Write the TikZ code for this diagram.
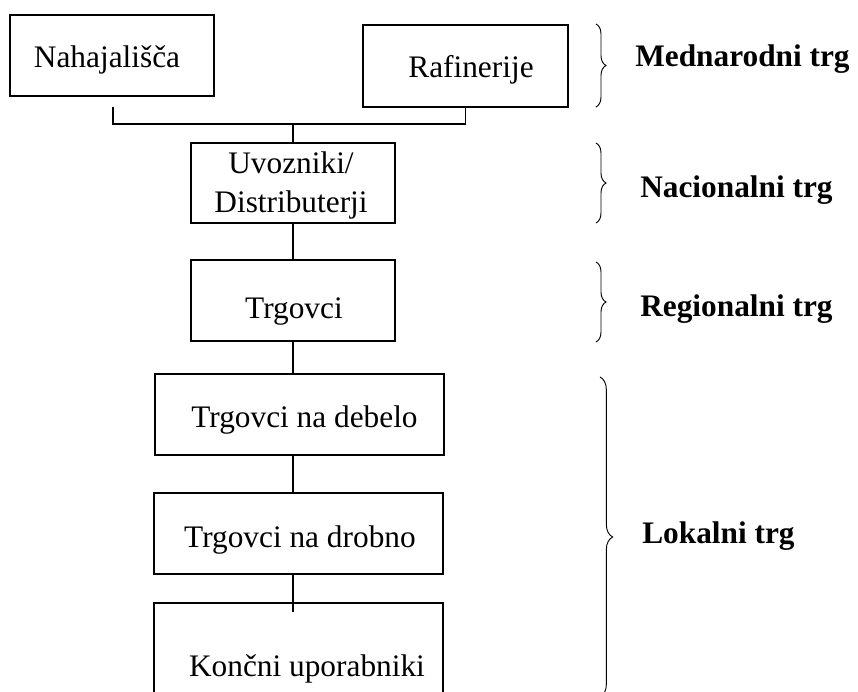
\documentclass[tikz,border=0pt]{standalone}
\usepackage{fontspec}
\setmainfont{Liberation Serif}
\usetikzlibrary{decorations.pathreplacing}
\begin{document}
\begin{tikzpicture}[x=0.75pt,y=-0.75pt,
  box/.style={draw, line width=0.8pt, rectangle, inner sep=0pt},
  lbl/.style={font=\fontsize{23.5}{29.25}\selectfont, inner sep=0pt, anchor=base},
  mkt/.style={font=\fontsize{23.5}{29.25}\selectfont\bfseries, inner sep=0pt, anchor=base west},
  conn/.style={line width=0.8pt},
  brc/.style={decorate, decoration={brace, amplitude=7.5pt}, line width=0.7pt}]
\useasboundingbox (0,0) rectangle (858,692);
\clip (0,0) rectangle (858,692);

% boxes
\node[box, minimum width=153pt, minimum height=60.75pt] (naha) at (112,55.5) {};
\node[box, minimum width=153.75pt, minimum height=61.5pt] (rafi) at (465.5,66) {};
\node[box, minimum width=153pt, minimum height=60pt] (uvoz) at (293,183) {};
\node[box, minimum width=153pt, minimum height=60.75pt] (trg) at (293,300.5) {};
\node[box, minimum width=216.75pt, minimum height=60.75pt] (deb) at (299.5,414.5) {};
\node[box, minimum width=216.75pt, minimum height=60.75pt] (drob) at (298.5,533.5) {};
\node[box, minimum width=216.75pt, minimum height=87.75pt] (konc) at (298.5,661.5) {};

% texts
\node[lbl] (nahaT) at (107,68) {Nahajališča};
\node[lbl] (rafiT) at (471,78) {Rafinerije};
\node[lbl, anchor=center, align=center] (uvozT) at (291,185) {Uvozniki/\\Distributerji};
\node[lbl] (trgT) at (294,318) {Trgovci};
\node[lbl] (debT) at (304.5,427) {Trgovci na debelo};
\node[lbl] (drobT) at (300,547) {Trgovci na drobno};
\node[lbl] (koncT) at (307,676) {Končni uporabniki};

% connectors
\coordinate (nahaDrop) at (113,107);
\coordinate (bus) at (293,124);
\draw[conn] (nahaDrop) |- (bus) -| (rafi.south);
\draw[conn] (bus) -- (uvoz.north);
\draw[conn] (uvoz.south) -- (trg.north);
\draw[conn] (trg.south) -- (deb.north -| trg.south);
\draw[conn] (deb.south -| trg.south) -- (drob.north -| trg.south);
\coordinate (koncIn) at (293,612);
\draw[conn] (drob.south -| trg.south) -- (koncIn);

% braces
\coordinate (b1s) at (596,24);  \coordinate (b1e) at (596,107);
\coordinate (b2s) at (596,143); \coordinate (b2e) at (596,223);
\coordinate (b3s) at (596,262); \coordinate (b3e) at (596,342);
\coordinate (b4s) at (600,377); \coordinate (b4e) at (600,697);
\draw[brc] (b1s) -- (b1e);
\draw[brc] (b2s) -- (b2e);
\draw[brc] (b3s) -- (b3e);
\draw[brc, decoration={brace, amplitude=9.5pt}] (b4s) -- (b4e);

% market labels
\node[mkt] (m1) at (635,67) {Mednarodni trg};
\node[mkt] (m2) at (640,197) {Nacionalni trg};
\node[mkt] (m3) at (640,316) {Regionalni trg};
\node[mkt] (m4) at (642,543) {Lokalni trg};
\end{tikzpicture}
\end{document}
